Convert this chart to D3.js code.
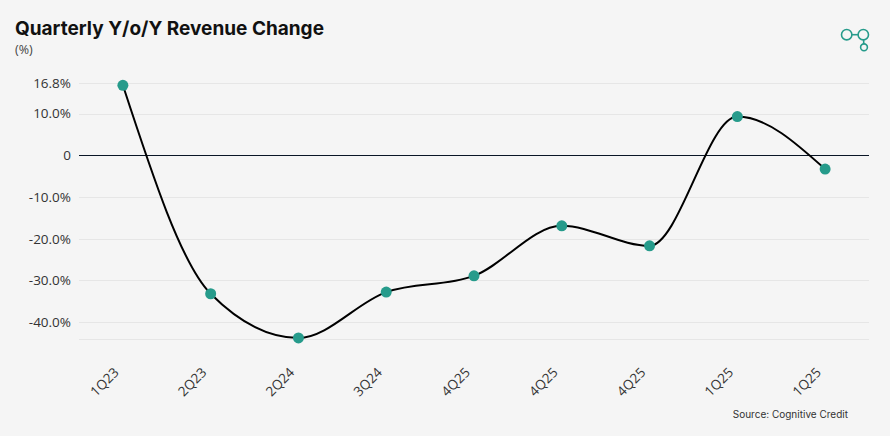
<!DOCTYPE html>
<html>
<head>
<meta charset="utf-8">
<script src="https://cdn.jsdelivr.net/npm/d3@7"></script>
<style>
  html, body { margin: 0; padding: 0; background: #f5f5f5; }
  svg { display: block; }
  .title { font-family: Inter, "Open Sans", sans-serif; font-weight: 700; font-size: 19px; fill: #111; }
  .unit { font-family: "Open Sans", sans-serif; font-size: 12.5px; fill: #444; }
  .ytick text { font-family: "Open Sans", sans-serif; font-size: 13.5px; fill: #333; }
  .xtick text { font-family: "Open Sans", sans-serif; font-size: 13.5px; fill: #333; }
  .source { font-family: Inter, "Open Sans", sans-serif; font-size: 10px; fill: #333; }
</style>
</head>
<body>
<div id="chart"></div>
<script>
  const width = 890;
  const height = 436;

  // quarters as printed on the axis (some labels repeat in the source)
  const quarters = ["1Q23", "2Q23", "2Q24", "3Q24", "4Q25", "4Q25", "4Q25", "1Q25", "1Q25"];
  // y/o/y revenue change, %
  const changes = [16.8, -33.2, -43.8, -32.8, -28.9, -16.9, -21.7, 9.3, -3.3];
  const yTicks = [17.3, 10, 0, -10, -20, -30, -40, -44.1];
  const yTickLabels = ["16.8%", "10.0%", "0", "-10.0%", "-20.0%", "-30.0%", "-40.0%", ""];

  const plot = {left: 79, right: 869, top: 83.2, bottom: 339.2};

  const svg = d3.select("#chart").append("svg")
    .attr("width", width)
    .attr("height", height);

  svg.append("rect")
    .attr("width", width)
    .attr("height", height)
    .attr("fill", "#f5f5f5");

  const x = d3.scalePoint()
    .domain(d3.range(quarters.length))
    .range([plot.left, plot.right])
    .padding(0.5);

  const y = d3.scaleLinear()
    .domain([yTicks[yTicks.length - 1], yTicks[0]])
    .range([plot.bottom, plot.top]);

  // title block
  svg.append("text").attr("class", "title")
    .attr("x", 15).attr("y", 35)
    .text("Quarterly Y/o/Y Revenue Change");
  svg.append("text").attr("class", "unit")
    .attr("x", 15).attr("y", 54)
    .text("(%)");

  // gridlines + y labels
  const yAxis = svg.append("g")
    .attr("class", "ytick")
    .attr("transform", "translate(" + plot.left + ",0)")
    .call(d3.axisLeft(y)
      .tickValues(yTicks)
      .tickSize(-(plot.right - plot.left))
      .tickPadding(8)
      .tickFormat(function (d, i) { return yTickLabels[i]; }));
  yAxis.select(".domain").remove();
  yAxis.selectAll(".tick line")
    .attr("stroke", function (d) { return d === 0 ? "#0a1626" : "#e6e6e6"; })
    .attr("stroke-width", 1)
    .attr("shape-rendering", "crispEdges");
  yAxis.selectAll(".tick").filter(function (d) { return d === 0; }).raise();

  // x labels
  const xAxis = svg.append("g")
    .attr("class", "xtick")
    .attr("transform", "translate(0,370)")
    .call(d3.axisBottom(x)
      .tickSize(0)
      .tickPadding(0)
      .tickFormat(function (i) { return quarters[i]; }));
  xAxis.select(".domain").remove();
  xAxis.selectAll("text")
    .attr("text-anchor", "end")
    .attr("y", 0)
    .attr("dy", "0.35em")
    .attr("transform", "translate(-7,0) rotate(-45)");

  // line
  const line = d3.line()
    .x(function (d, i) { return x(i); })
    .y(function (d) { return y(d); })
    .curve(d3.curveMonotoneX);

  svg.append("path")
    .datum(changes)
    .attr("fill", "none")
    .attr("stroke", "#000")
    .attr("stroke-width", 2)
    .attr("d", line);

  svg.append("g").selectAll("circle")
    .data(changes)
    .join("circle")
    .attr("cx", function (d, i) { return x(i); })
    .attr("cy", function (d) { return y(d); })
    .attr("r", 5.5)
    .attr("fill", "#269b8b");

  // source
  svg.append("text").attr("class", "source")
    .attr("x", 848).attr("y", 418)
    .attr("text-anchor", "end")
    .text("Source: Cognitive Credit");

  // logo mark
  const logo = svg.append("g")
    .attr("fill", "none")
    .attr("stroke", "#269b8b")
    .attr("stroke-width", 1.6);
  logo.append("circle").attr("cx", 846.7).attr("cy", 34.7).attr("r", 5.2);
  logo.append("circle").attr("cx", 863.3).attr("cy", 34.7).attr("r", 5.2);
  logo.append("circle").attr("cx", 864).attr("cy", 47.3).attr("r", 3.4);
  logo.append("line").attr("x1", 851.9).attr("x2", 858.1).attr("y1", 34.7).attr("y2", 34.7);
  logo.append("line").attr("x1", 863.6).attr("x2", 863.8).attr("y1", 39.9).attr("y2", 43.9);
</script>
</body>
</html>
